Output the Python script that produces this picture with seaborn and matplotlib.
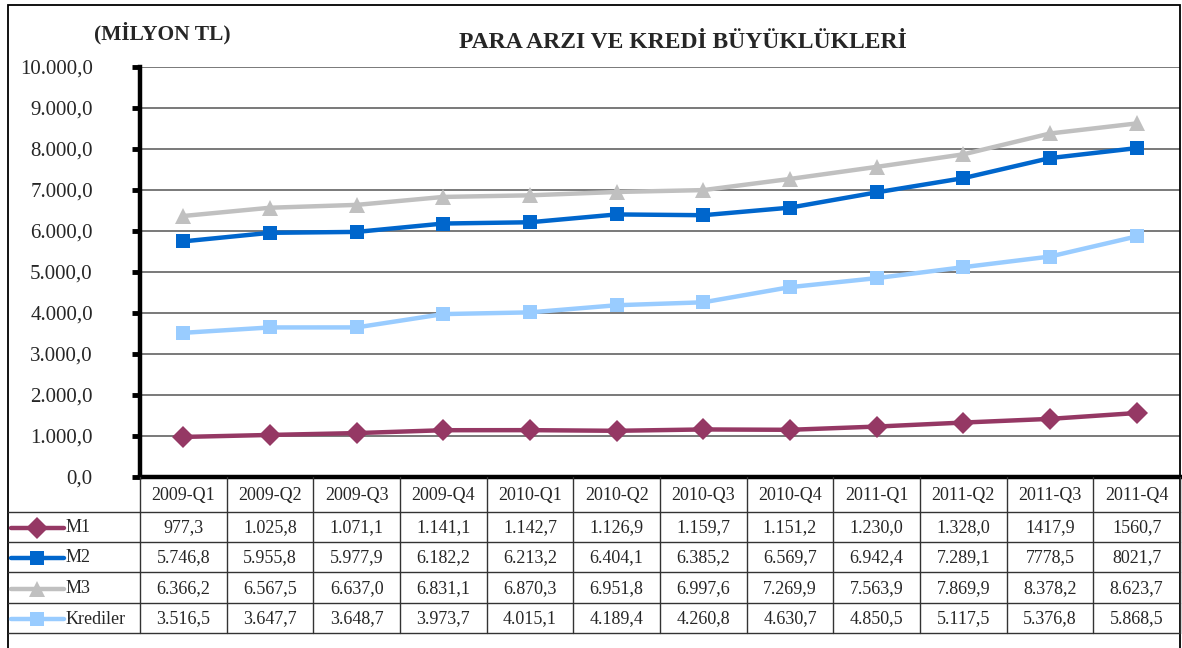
import matplotlib
matplotlib.use("Agg")
import matplotlib.pyplot as plt
from matplotlib.lines import Line2D
from matplotlib.patches import Rectangle
import seaborn as sns
import pandas as pd

quarters = ["2009-Q1", "2009-Q2", "2009-Q3", "2009-Q4", "2010-Q1", "2010-Q2",
            "2010-Q3", "2010-Q4", "2011-Q1", "2011-Q2", "2011-Q3", "2011-Q4"]
m1 = [977.3, 1025.8, 1071.1, 1141.1, 1142.7, 1126.9, 1159.7, 1151.2, 1230.0, 1328.0, 1417.9, 1560.7]
m2 = [5746.8, 5955.8, 5977.9, 6182.2, 6213.2, 6404.1, 6385.2, 6569.7, 6942.4, 7289.1, 7778.5, 8021.7]
m3 = [6366.2, 6567.5, 6637.0, 6831.1, 6870.3, 6951.8, 6997.6, 7269.9, 7563.9, 7869.9, 8378.2, 8623.7]
krediler = [3516.5, 3647.7, 3648.7, 3973.7, 4015.1, 4189.4, 4260.8, 4630.7, 4850.5, 5117.5, 5376.8, 5868.5]
m1_text = ["977,3", "1.025,8", "1.071,1", "1.141,1", "1.142,7", "1.126,9", "1.159,7", "1.151,2", "1.230,0", "1.328,0", "1417,9", "1560,7"]
m2_text = ["5.746,8", "5.955,8", "5.977,9", "6.182,2", "6.213,2", "6.404,1", "6.385,2", "6.569,7", "6.942,4", "7.289,1", "7778,5", "8021,7"]
m3_text = ["6.366,2", "6.567,5", "6.637,0", "6.831,1", "6.870,3", "6.951,8", "6.997,6", "7.269,9", "7.563,9", "7.869,9", "8.378,2", "8.623,7"]
kr_text = ["3.516,5", "3.647,7", "3.648,7", "3.973,7", "4.015,1", "4.189,4", "4.260,8", "4.630,7", "4.850,5", "5.117,5", "5.376,8", "5.868,5"]
series_names = ["M1", "M2", "M3", "Krediler"]
yticks = [0, 1000, 2000, 3000, 4000, 5000, 6000, 7000, 8000, 9000, 10000]
ytick_labels = ["0,0", "1.000,0", "2.000,0", "3.000,0", "4.000,0", "5.000,0",
                "6.000,0", "7.000,0", "8.000,0", "9.000,0", "10.000,0"]

colors = {"M1": "#953864", "M2": "#0066CC", "M3": "#C0C0C0", "Krediler": "#99CCFF"}
markers = {"M1": "D", "M2": "s", "M3": "^", "Krediler": "s"}
msizes = {"M1": 11, "M2": 9.5, "M3": 11, "Krediler": 9.5}

sns.set_style("white")
plt.rcParams["font.family"] = ["Liberation Serif", "DejaVu Serif"]

W, H = 1182, 648
fig = plt.figure(figsize=(W / 100, H / 100), dpi=100)
fig.patch.set_facecolor("white")

def fx(x):
    return x / W

def fy(y):
    return 1 - y / H

ax = fig.add_axes([fx(140), fy(477), fx(1180) - fx(140), fy(67) - fy(477)])

values = {"M1": m1, "M2": m2, "M3": m3, "Krediler": krediler}
for name in series_names:
    d = pd.DataFrame({"quarter": range(len(quarters)), "value": values[name]})
    sns.lineplot(data=d, x="quarter", y="value", color=colors[name], marker=markers[name],
                 linewidth=3.2, markersize=msizes[name], markeredgewidth=0,
                 ax=ax, sort=False, legend=False)

ax.set_xlim(-0.5, len(quarters) - 0.5)
ax.set_ylim(0, 10000)
ax.set_yticks(yticks)
ax.set_yticklabels(ytick_labels, fontsize=15)
ax.set_xticks([])
ax.set_xlabel("")
ax.set_ylabel("")
ax.grid(axis="y", color="#555555", linewidth=1.1)
ax.set_axisbelow(True)
for s in ["top", "right"]:
    ax.spines[s].set_visible(False)
ax.spines["left"].set_linewidth(3.2)
ax.spines["left"].set_color("black")
ax.spines["bottom"].set_linewidth(3.2)
ax.spines["bottom"].set_color("black")
ax.tick_params(axis="y", direction="out", length=6, width=3.5, color="black", pad=28, left=True)

# titles
fig.text(fx(162), fy(33), "(MİLYON TL)", fontsize=15.5, fontweight="bold", ha="center", va="center")
fig.text(fx(683), fy(42), "PARA ARZI VE KREDİ BÜYÜKLÜKLERİ", fontsize=17, fontweight="bold", ha="center", va="center")

# outer border
fig.add_artist(Rectangle((fx(8), fy(700)), fx(1180) - fx(8), fy(5) - fy(700),
                         transform=fig.transFigure, fill=False, edgecolor="black", linewidth=1.3))

# table
to_fig = lambda xd: fig.transFigure.inverted().transform(ax.transData.transform((xd, 0)))[0]
bounds = [to_fig(i - 0.5) for i in range(len(quarters) + 1)]
row_y = [477, 512, 542, 572, 603, 633]
gc = "#333333"
for b in bounds:
    fig.add_artist(Line2D([b, b], [fy(477), fy(633)], transform=fig.transFigure, color=gc, lw=1.0))
for y in row_y[1:]:
    fig.add_artist(Line2D([fx(8), fx(1180)], [fy(y), fy(y)], transform=fig.transFigure, color=gc, lw=1.0))

fs = 13
for i, q in enumerate(quarters):
    cx = (bounds[i] + bounds[i + 1]) / 2
    fig.text(cx, fy((477 + 512) / 2 + 1), q, fontsize=fs, ha="center", va="center")

texts = {"M1": m1_text, "M2": m2_text, "M3": m3_text, "Krediler": kr_text}
for r, name in enumerate(series_names):
    yc = fy((row_y[r + 1] + row_y[r + 2]) / 2 + 1)
    fig.add_artist(Line2D([fx(11), fx(64)], [yc, yc], transform=fig.transFigure,
                          color=colors[name], lw=3.2))
    fig.add_artist(Line2D([fx(37)], [yc], transform=fig.transFigure, color=colors[name],
                          marker=markers[name], markersize=msizes[name], markeredgewidth=0, lw=0))
    fig.text(fx(66), yc, name, fontsize=fs, ha="left", va="center")
    for i in range(len(quarters)):
        cx = (bounds[i] + bounds[i + 1]) / 2
        fig.text(cx, yc, texts[name][i], fontsize=fs, ha="center", va="center")

fig.savefig("out.png", dpi=100)
